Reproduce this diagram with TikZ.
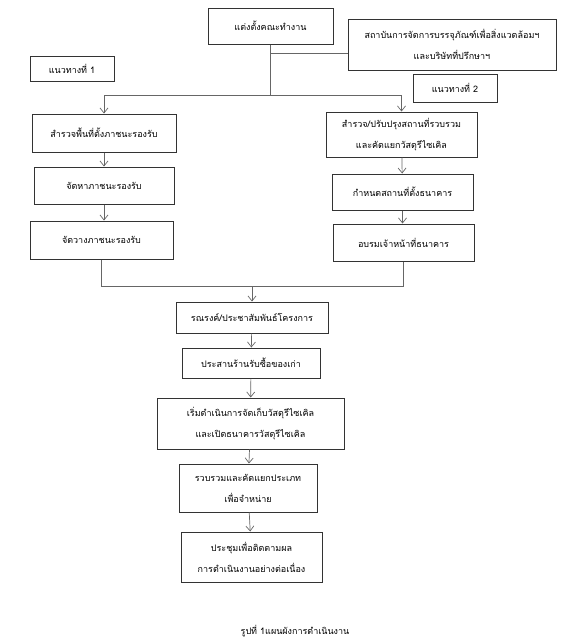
\documentclass[tikz,border=0pt]{standalone}
\usepackage{fontspec}
\newfontfamily\thaifont[Script=Thai]{Loma}
\usetikzlibrary{arrows.meta}
\tikzset{
  box/.style={draw=black!80, line width=1pt, inner sep=2pt, align=center,
    font=\thaifont\fontsize{9}{21}\selectfont},
  conn/.style={draw=black!60, line width=0.7pt},
  arr/.style={conn, -{Straight Barb[length=5pt,width=8pt]}},
}
\begin{document}
\begin{tikzpicture}[x=1pt,y={(0pt,-1pt)}]
\useasboundingbox (0,0) rectangle (576,643);
% top
\node[box, minimum width=125pt, minimum height=36pt] (T) at (270.5,26) {แต่งตั้งคณะทำงาน};
\node[box, minimum width=208pt, minimum height=51pt] (S) at (452,44.5) {สถาบันการจัดการบรรจุภัณฑ์เพื่อสิ่งแวดล้อมฯ\\และบริษัทที่ปรึกษาฯ};
\node[box, minimum width=84pt, minimum height=25pt] (G1) at (72,68.5) {แนวทางที่ 1};
\node[box, minimum width=84pt, minimum height=28pt] (G2) at (455,88) {แนวทางที่ 2};
% left column
\node[box, minimum width=144pt, minimum height=38pt] (L1) at (104,133) {สำรวจพื้นที่ตั้งภาชนะรองรับ};
\node[box, minimum width=140pt, minimum height=37pt] (L2) at (104,185.5) {จัดหาภาชนะรองรับ};
\node[box, minimum width=143pt, minimum height=38pt] (L3) at (101.5,240) {จัดวางภาชนะรองรับ};
% right column
\node[box, minimum width=151pt, minimum height=45pt] (R1) at (401.5,134.5) {สำรวจ/ปรับปรุงสถานที่รวบรวม\\และคัดแยกวัสดุรีไซเคิล};
\node[box, minimum width=141pt, minimum height=36pt] (R2) at (402.5,192) {กำหนดสถานที่ตั้งธนาคาร};
\node[box, minimum width=141pt, minimum height=37pt] (R3) at (403.5,242.5) {อบรมเจ้าหน้าที่ธนาคาร};
% centre column
\node[box, minimum width=152pt, minimum height=31pt] (C1) at (252,317.5) {รณรงค์/ประชาสัมพันธ์โครงการ};
\node[box, minimum width=138pt, minimum height=30pt] (C2) at (251,363) {ประสานร้านรับซื้อของเก่า};
\node[box, minimum width=187pt, minimum height=51pt] (C3) at (250.5,423.5) {เริ่มดำเนินการจัดเก็บวัสดุรีไซเคิล\\และเปิดธนาคารวัสดุรีไซเคิล};
\node[box, minimum width=138pt, minimum height=48pt] (C4) at (248,488) {รวบรวมและคัดแยกประเภท\\เพื่อจำหน่าย};
\node[box, minimum width=141pt, minimum height=50pt] (C5) at (251.5,557) {ประชุมเพื่อติดตามผล\\การดำเนินงานอย่างต่อเนื่อง};
\node[font=\thaifont\fontsize{9}{10}\selectfont] (cap) at (295,631) {รูปที่ 1แผนผังการดำเนินงาน};
% connectors
\coordinate (jb) at (0,53);
\coordinate (jh) at (0,95);
\coordinate (jm) at (0,286);
\draw[conn] (T.south) -- (T.south |- jh);
\draw[conn] (T.south |- jb) -- (S.west |- jb);
\draw[conn] (L1.north |- jh) -- (R1.north |- jh);
\draw[arr] (L1.north |- jh) -- (L1.north);
\draw[arr] (R1.north |- jh) -- (R1.north);
\draw[arr] (L1) -- (L2);
\draw[arr] (L2.south) -- (L3.north -| L2.south);
\draw[arr] (R1) -- (R2);
\draw[arr] (R2.south) -- (R3.north -| R2.south);
\draw[conn] (L3.south) -- (L3.south |- jm) -- (R3.south |- jm) -- (R3.south);
\draw[arr] (C1.north |- jm) -- (C1.north);
\draw[arr] (C1) -- (C2);
\draw[arr] (C2) -- (C3);
\draw[arr] (C3) -- (C4);
\draw[arr] (C4) -- (C5);
\end{tikzpicture}
\end{document}
